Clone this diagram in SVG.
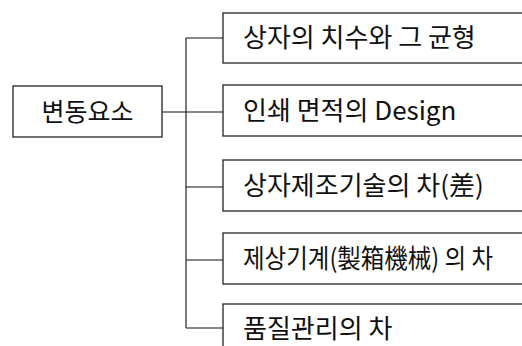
<svg xmlns="http://www.w3.org/2000/svg" width="522" height="346" viewBox="0 0 522 346">
<style>
.box{fill:#fff;stroke:#111;stroke-width:1.2}
.ln{fill:none;stroke:#111;stroke-width:1.1}
.t{font-family:"Noto Sans CJK KR","Noto Sans",sans-serif;font-size:26px;fill:#111}
</style>
<rect width="522" height="346" fill="#fff"/>
<g id="connectors">
<path class="ln" d="M162,112 H223 M186,38 V328 M186,38 H223 M186,187 H223 M186,260 H223 M186,328 H223"/>
</g>
<g id="root">
<rect class="box" x="13" y="86" width="149" height="51"/>
<text class="t" x="87.5" y="121" text-anchor="middle" style="font-size:25px">변동요소</text>
</g>
<g id="n1">
<rect class="box" x="223" y="13" width="310" height="50"/>
<text class="t" x="243" y="47">상자의 치수와 그 균형</text>
</g>
<g id="n2">
<rect class="box" x="223" y="85" width="310" height="51"/>
<text class="t" x="243" y="120">인쇄 면적의 Design</text>
</g>
<g id="n3">
<rect class="box" x="223" y="160" width="310" height="51"/>
<text class="t" x="243" y="195">상자제조기술의 차(差)</text>
</g>
<g id="n4">
<rect class="box" x="223" y="233" width="310" height="51"/>
<text class="t" x="243" y="268" textLength="250" lengthAdjust="spacingAndGlyphs">제상기계(製箱機械) 의 차</text>
</g>
<g id="n5">
<rect class="box" x="223" y="304" width="310" height="60"/>
<text class="t" x="243" y="338">품질관리의 차</text>
</g>
</svg>
